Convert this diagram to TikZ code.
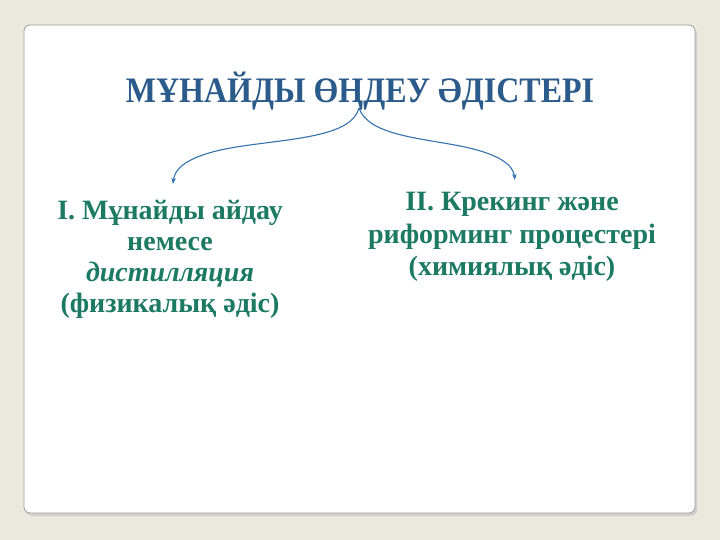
\documentclass[tikz,border=0pt]{standalone}
\usepackage{fontspec}
\setmainfont{Liberation Serif}
\usetikzlibrary{arrows.meta}
\definecolor{bgbeige}{HTML}{EBE9DD}
\definecolor{panelline}{HTML}{9A9A94}
\definecolor{titleblue}{HTML}{2A5B8A}
\definecolor{tealtext}{HTML}{1C7A64}
\definecolor{arrowblue}{HTML}{3472B0}
\tikzset{
  titletext/.style={font=\fontsize{32}{36}\selectfont\bfseries, text=titleblue, inner sep=0pt, yscale=1.12},
  bodytext/.style={font=\fontsize{28}{31}\selectfont\bfseries, text=tealtext, align=center, inner sep=0pt},
  bracearrow/.style={draw=arrowblue, line width=1.1pt, -{Stealth[length=6pt,width=4.5pt]}}
}
\begin{document}
\begin{tikzpicture}[x=1pt,y=-1pt]
\useasboundingbox (0,0) rectangle (720,540);
\fill[bgbeige] (0,0) rectangle (720,540);
\fill[black!18, rounded corners=6pt] (26,28) rectangle (697,516);
\draw[panelline, fill=white, line width=0.8pt, rounded corners=6pt] (24,25) rectangle (695,513);
\node[titletext] (title) at (360,91) {МҰНАЙДЫ ӨҢДЕУ ӘДІСТЕРІ};
\coordinate (top) at (359,108);
\node[bodytext] (left) at (170,259) {І. Мұнайды айдау\\немесе\\\textit{дистилляция}\\(физикалық әдіс)};
\node[bodytext, font=\fontsize{28}{32.5}\selectfont\bfseries] (right) at (512,237) {ІІ. Крекинг және\\риформинг процестері\\(химиялық әдіс)};
\draw[bracearrow] (top) .. controls (352,135) and (300,138) .. (250,145) .. controls (195,152) and (175,165) .. (173,184);
\draw[bracearrow] (top) .. controls (368,135) and (420,138) .. (460,146) .. controls (500,154) and (513,165) .. (515,180);
\end{tikzpicture}
\end{document}
